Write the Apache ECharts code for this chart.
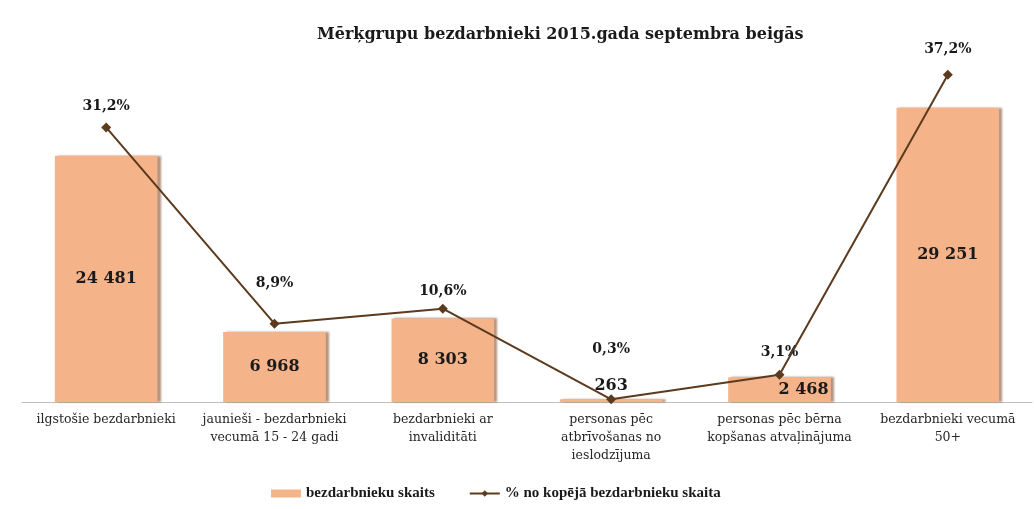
<!DOCTYPE html>
<html>
<head>
<meta charset="utf-8">
<script src="https://cdn.jsdelivr.net/npm/echarts@6/dist/echarts.min.js"></script>
<style>
html,body{margin:0;padding:0;background:#fff;}
#chart{width:1034px;height:509px;}
</style>
</head>
<body>
<div id="chart"></div>
<script>
var categories = [
  "ilgstošie bezdarbnieki",
  "jaunieši - bezdarbnieki\nvecumā 15 - 24 gadi",
  "bezdarbnieki ar\ninvaliditāti",
  "personas pēc\natbrīvošanas no\nieslodzījuma",
  "personas pēc bērna\nkopšanas atvaļinājuma",
  "bezdarbnieki vecumā\n50+"
];
var countValues = [24481, 6968, 8303, 263, 2468, 29251];
var percentValues = [31.2, 8.9, 10.6, 0.3, 3.1, 37.2];
var seriesNames = ["bezdarbnieku skaits", "% no kopējā bezdarbnieku skaita"];
var titleText = "Mērķgrupu bezdarbnieki 2015.gada septembra beigās";

// label styling (not data)
var pctLabelDistance = [9, 28, 5, 38, 10, 13];
var serif = '"DejaVu Serif", "Liberation Serif", serif';
var serif2 = '"Liberation Serif", "DejaVu Serif", serif';

function fmtCount(v){ return String(v).replace(/\B(?=(\d{3})+(?!\d))/g, ' '); }
function fmtPct(v){ return v.toFixed(1).replace('.', ',') + '%'; }

var barData = countValues.map(function(v, i){
  var item = {value: v};
  if (v < 1000) {
    item.label = {position: 'top', distance: 6};
  } else if (v < 5000) {
    item.label = {position: 'inside', offset: [24, 0]};
  }
  return item;
});
var lineData = percentValues.map(function(v, i){
  return {value: v, label: {distance: pctLabelDistance[i]}};
});

var chart = echarts.init(document.getElementById('chart'));
chart.setOption({
  backgroundColor: '#ffffff',
  animation: false,
  title: {
    text: titleText,
    left: 312,
    top: 22,
    textStyle: {fontFamily: serif, fontWeight: 'bold', fontSize: 16, color: '#1a1a1a'}
  },
  legend: {
    bottom: 3,
    left: 266,
    itemGap: 34,
    itemWidth: 30,
    itemHeight: 8,
    textStyle: {fontFamily: serif2, fontWeight: 'bold', fontSize: 15, color: '#1a1a1a'},
    data: [
      {name: seriesNames[0], icon: 'rect'},
      {name: seriesNames[1]}
    ]
  },
  grid: {left: 22, right: 2, top: 50, bottom: 107, containLabel: false},
  xAxis: {
    type: 'category',
    data: categories,
    axisLine: {lineStyle: {color: '#bfbfbf', width: 1}},
    axisTick: {show: false},
    axisLabel: {
      interval: 0,
      fontFamily: serif,
      fontSize: 12.5,
      color: '#262626',
      lineHeight: 18,
      margin: 9
    }
  },
  yAxis: [
    {type: 'value', min: 0, max: 35000, show: false, splitLine: {show: false}},
    {type: 'value', min: 0, max: 40, show: false, splitLine: {show: false}}
  ],
  series: [
    {
      name: seriesNames[0],
      type: 'bar',
      yAxisIndex: 0,
      barWidth: '61%',
      data: barData,
      itemStyle: {
        color: '#F5B38A',
        shadowColor: 'rgba(110,60,25,0.55)',
        shadowOffsetX: 3,
        shadowOffsetY: 0,
        shadowBlur: 2
      },
      label: {
        show: true,
        position: 'inside',
        formatter: function(p){ return fmtCount(p.value); },
        fontFamily: serif,
        fontWeight: 'bold',
        fontSize: 16,
        color: '#1a1a1a'
      }
    },
    {
      name: seriesNames[1],
      type: 'line',
      yAxisIndex: 1,
      data: lineData,
      symbol: 'diamond',
      symbolSize: 10,
      lineStyle: {color: '#5b3a1e', width: 2},
      itemStyle: {color: '#5b3a1e'},
      label: {
        show: true,
        position: 'top',
        formatter: function(p){ return fmtPct(p.value); },
        fontFamily: serif,
        fontWeight: 'bold',
        fontSize: 14,
        color: '#1a1a1a'
      },
      z: 5
    }
  ]
});
</script>
</body>
</html>
